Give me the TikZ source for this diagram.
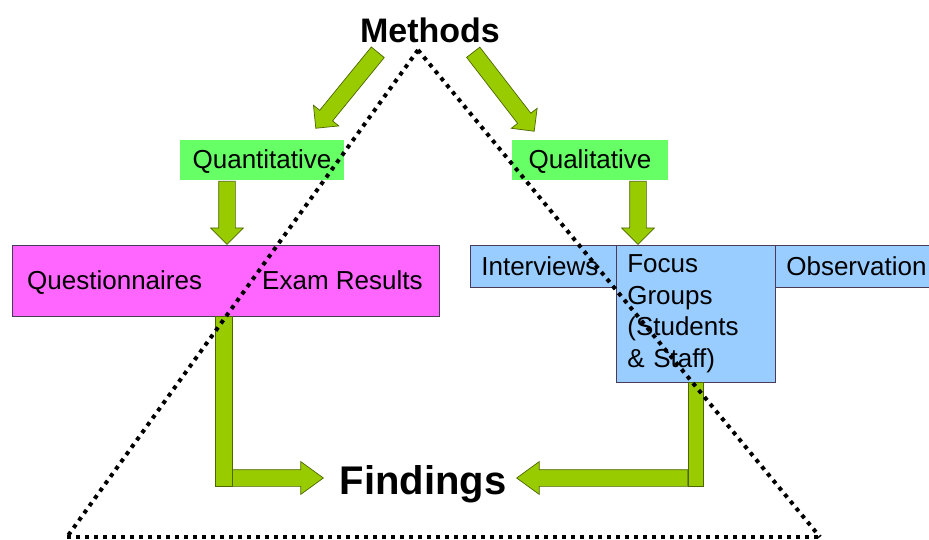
\documentclass[tikz,border=0pt]{standalone}
\usepackage{fontspec}
\setmainfont{Liberation Sans}
\usepackage{tikz}
\usetikzlibrary{arrows.meta}
\usetikzlibrary{calc}
\usetikzlibrary{shapes.arrows}
\definecolor{boxgreen}{HTML}{66FF66}
\definecolor{boxpink}{HTML}{FF66FF}
\definecolor{boxblue}{HTML}{99CCFF}
\definecolor{boxedge}{HTML}{4A3A5A}
\definecolor{arrowgreen}{HTML}{99CC00}
\definecolor{arrowedge}{HTML}{4D6600}
\tikzset{
    greenbox/.style={fill=boxgreen, minimum height=40pt, inner sep=0pt, text height=18.6pt, text depth=1pt,
        font=\fontsize{26}{31}\selectfont},
    pinkbox/.style={fill=boxpink, draw=boxedge, line width=0.7pt, inner sep=0pt},
    bluebox/.style={fill=boxblue, draw=boxedge, line width=0.7pt, inner xsep=11pt, inner ysep=0pt,
        align=left, anchor=north west, font=\fontsize{26}{31.5}\selectfont},
    boxtext/.style={inner sep=0pt, anchor=base west, font=\fontsize{26}{31}\selectfont},
    bigtext/.style={inner sep=0pt, anchor=base, font=\bfseries\fontsize{#1}{#1}\selectfont},
    fatarrow/.style={single arrow, draw=arrowedge, fill=arrowgreen, line width=0.7pt, inner sep=8pt,
        single arrow head extend=8pt, single arrow tip angle=#1, single arrow head indent=0pt},
    fatbar/.style={draw=arrowedge, fill=arrowgreen, line width=0.7pt},
    dots/.style={line width=4pt, dash pattern=on 4pt off 5pt}
}
\newcommand{\fatarrow}[3]{%
    \path let \p1=($(#3)-(#2)$) in (#2)
        node[fatarrow=#1, anchor=tail, rotate={atan2(\y1,\x1)}, minimum height={veclen(\x1,\y1)}] {};}

\begin{document}
\begin{tikzpicture}[x=1pt,y=-1pt]
\useasboundingbox[fill=white] (0,0) rectangle (929,540);
    %titles
    \node[bigtext=34] (methods) at (430,43) {Methods};
    \node[bigtext=40] (findings) at (423,494) {Findings};
    %method boxes
    \node[greenbox, minimum width=164pt] (quant) at (262,160) {Quantitative};
    \node[greenbox, minimum width=156pt] (qual) at (590,160) {Qualitative};
    \node[pinkbox, minimum width=427pt, minimum height=71pt] (quantbox) at (225.5,280.5) {};
    \node[boxtext] (quest) at (27,289) {Questionnaires};
    \node[boxtext] (exam) at (262,289) {Exam Results};
    \node[bluebox, text width=124pt, minimum height=42pt] (interviews) at (470,245) {Interviews};
    \node[bluebox, text width=137pt, minimum height=137pt] (focus) at (616,245)
        {Focus\\Groups\\(Students\\\& Staff)};
    \node[bluebox, text width=138pt, minimum height=42pt] (observation) at (775,245) {Observation};
    %arrow ends
    \coordinate (mleft) at (378,52);
    \coordinate (mright) at (473,52);
    \coordinate (quanttip) at (316,128);
    \coordinate (qualtip) at (534,131);
    \coordinate (quantdown) at (227,181);
    \coordinate (quantin) at (227,244);
    \coordinate (qualdown) at (638,181);
    \coordinate (qualin) at (638,244);
    \coordinate (lbar) at (215,486);
    \coordinate (rbar) at (688,486);
    \coordinate (lstart) at (232,478);
    \coordinate (lend) at (323,478);
    \coordinate (rstart) at (688,478);
    \coordinate (rend) at (517,478);
    \foreach \from/\to/\ang in {mleft/quanttip/90, mright/qualtip/90, quantdown/quantin/90,
        qualdown/qualin/90, lstart/lend/72, rstart/rend/72}
    {\fatarrow{\ang}{\from}{\to}}
    \draw[fatbar] (lbar) rectangle ++(17,-170);
    \draw[fatbar] (rbar) rectangle ++(15,-104);
    %triangle
    \coordinate (apex) at (418,50);
    \coordinate (bl) at (67,537);
    \coordinate (br) at (820,537);
    \draw[dots] (apex) -- (bl);
    \draw[dots] (apex) -- (br);
    \draw[dots] (bl) -- (br);
\end{tikzpicture}
\end{document}
